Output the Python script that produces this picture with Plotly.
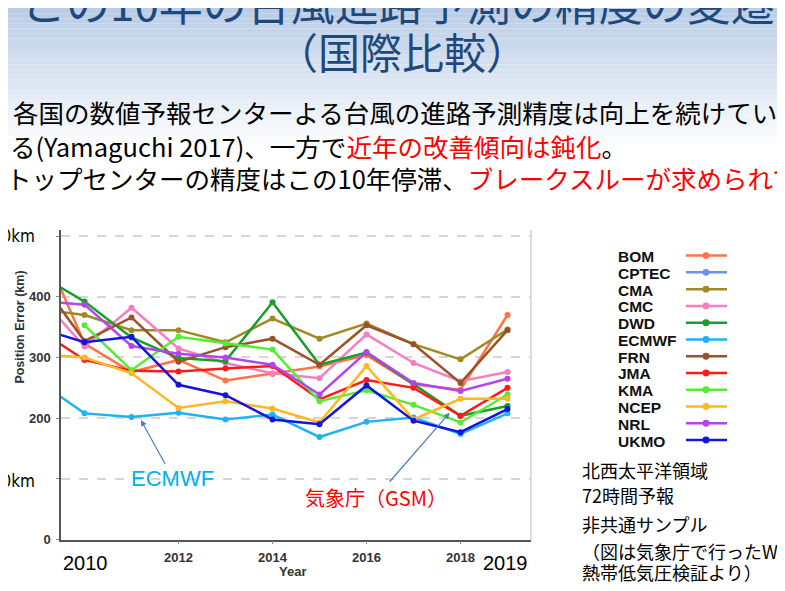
import plotly.graph_objects as go

W, H = 785, 591

# --- data (72h typhoon track position error, km) ---
years = [2009, 2010, 2011, 2012, 2013, 2014, 2015, 2016, 2017, 2018, 2019]

centres = ['BOM', 'CPTEC', 'CMA', 'CMC', 'DWD', 'ECMWF', 'FRN', 'JMA', 'KMA', 'NCEP', 'NRL', 'UKMO']
colors = ['#ff7447', '#6f8ff0', '#a08a26', '#f77ec0', '#16a02a', '#1fb2f5',
          '#9a5228', '#ff1a1a', '#55ec33', '#ffb822', '#b245f0', '#1414e0']

bom = [501, 323, 276, 296, 262, 273, 285, 304, 256, 247, 370]
cptec = [None] * 11
cma = [380, 370, 345, 345, 325, 364, 331, 356, 322, 297, 346]
cmc = [404, 318, 382, 315, 291, 274, 266, 338, 291, 261, 276]
dwd = [438, 392, 333, 299, 294, 391, 288, 308, 256, 204, 220]
ecmwf = [262, 208, 202, 209, 198, 206, 169, 194, 201, 174, 208]
frn = [433, 327, 366, 293, 317, 331, 288, 353, 322, 258, 345]
jma = [347, 296, 278, 277, 282, 286, 231, 263, 250, 204, 250]
kma = [None, 353, 279, 334, 323, 313, 228, 246, 222, 193, 239]
ncep = [306, 300, 274, 217, 228, 216, 193, 286, 198, 232, 232]
nrl = [393, 387, 319, 306, 300, 288, 239, 309, 258, 245, 265]
ukmo = [349, 325, 334, 255, 238, 198, 190, 254, 196, 177, 215]

series = [bom, cptec, cma, cmc, dwd, ecmwf, frn, jma, kma, ncep, nrl, ukmo]

ytick_vals = [0, 100, 200, 300, 400, 500]
ytick_text = ['0', '', '200', '300', '400', '']
xtick_vals = [2012, 2014, 2016, 2018]

title1 = 'この10年の台風進路予測の精度の変遷'
title2 = '（国際比較）'
body1 = '各国の数値予報センターよる台風の進路予測精度は向上を続けてい'
body2 = 'る(Yamaguchi 2017)、一方で<span style="color:#ff0000">近年の改善傾向は鈍化</span>。'
body3 = 'トップセンターの精度はこの10年停滞、<span style="color:#ff0000">ブレークスルーが求められてる</span>'
side_notes = ['北西太平洋領域', '72時間予報', '非共通サンプル', '（図は気象庁で行ったWGNE', '熱帯低気圧検証より）']

NARROW = 'Liberation Sans Narrow, Liberation Sans'


def px(x):
    return x / W


def py(y):
    return 1 - y / H


fig = go.Figure()
for name, vals, col in zip(centres, series, colors):
    fig.add_trace(go.Scatter(x=years, y=vals, name=name, mode='lines+markers',
                             line=dict(color=col, width=2.5),
                             marker=dict(color=col, size=6),
                             connectgaps=False, showlegend=False))

shapes = []
# slide background gradient at the top
nb = 28
for i in range(nb):
    t = i / (nb - 1)
    c = (int(186 + (255 - 186) * t), int(205 + (255 - 205) * t), int(230 + (255 - 230) * t))
    shapes.append(dict(type='rect', xref='paper', yref='paper', x0=0, x1=1,
                       y0=py(i * 5.2 + 5.2), y1=py(i * 5.2), line_width=0,
                       fillcolor='rgb(%d,%d,%d)' % c, layer='below'))
# right border of the chart
shapes.append(dict(type='line', xref='x domain', yref='y domain', x0=1, x1=1, y0=0, y1=1,
                   line=dict(color='#d0d0d0', width=1.5)))

annotations = []
# legend drawn like the original (text left, line sample right)
for i, (name, col) in enumerate(zip(centres, colors)):
    yy = 251 + i * 17.0
    annotations.append(dict(text=name, x=px(608), y=py(yy + 1), xref='paper', yref='paper',
                            xanchor='left', yanchor='middle', showarrow=False,
                            font=dict(family='Liberation Sans', size=15.5, color='#111111', weight='bold')))
    shapes.append(dict(type='line', xref='paper', yref='paper', x0=px(678), x1=px(719),
                       y0=py(yy), y1=py(yy), line=dict(color=col, width=2.5)))
    shapes.append(dict(type='circle', xref='paper', yref='paper', x0=px(694.5), x1=px(701.5),
                       y0=py(yy + 3.5), y1=py(yy - 3.5), fillcolor=col, line_width=0))

annotations += [
    dict(text=title1, x=px(390), y=py(-6), yanchor='middle',
         font=dict(family='Noto Sans CJK JP', size=44, color='#1f497d')),
    dict(text=title2, x=px(394), y=py(43), yanchor='middle',
         font=dict(family='Noto Sans CJK JP', size=42, color='#1f497d')),
]
for a in annotations[-2:]:
    a.update(xref='paper', yref='paper', showarrow=False, xanchor='center')

for txt, x0, y0 in [(body1, 3, 105), (body2, 0, 139), (body3, -4, 172)]:
    annotations.append(dict(text=txt, x=px(x0), y=py(y0), xref='paper', yref='paper',
                            xanchor='left', yanchor='middle', showarrow=False,
                            font=dict(family='Noto Sans CJK JP', size=25.5, color='#000000')))

for txt, y0 in zip(side_notes, [468, 494, 523, 550, 572]):
    annotations.append(dict(text=txt, x=px(572), y=py(y0), xref='paper', yref='paper',
                            xanchor='left', yanchor='middle', showarrow=False,
                            font=dict(family='Noto Sans CJK JP', size=18, color='#000000')))

# overlaid slide labels (their first digit runs off the left edge)
for txt, y0 in [('500km', 231), ('100km', 479)]:
    annotations.append(dict(text=txt, x=px(29), y=py(y0), xref='paper', yref='paper',
                            xanchor='right', yanchor='middle', showarrow=False,
                            font=dict(family='DejaVu Sans Condensed', size=17, color='#000000')))
for txt, x0 in [('2010', 77), ('2019', 497)]:
    annotations.append(dict(text=txt, x=px(x0), y=py(563), xref='paper', yref='paper',
                            xanchor='center', yanchor='middle', showarrow=False,
                            font=dict(family='Liberation Sans', size=20, color='#000000')))

annotations += [
    dict(text='Position Error (km)', x=px(12), y=py(324), xref='paper', yref='paper',
         xanchor='center', yanchor='middle', textangle=-90, showarrow=False,
         font=dict(family=NARROW, size=12.5, color='#333333', weight='bold')),
    dict(text='Year', x=px(284), y=py(571), xref='paper', yref='paper',
         xanchor='center', yanchor='middle', showarrow=False,
         font=dict(family=NARROW, size=13, color='#333333', weight='bold')),
    dict(text='ECMWF', x=2011.2, y=197, xref='x', yref='y', ax=32, ay=58,
         axref='pixel', ayref='pixel',
         showarrow=True, arrowhead=2, arrowsize=1, arrowwidth=1.2, arrowcolor='#4a7ebb',
         font=dict(family='Liberation Sans', size=22, color='#00b0f0')),
    dict(text='気象庁（GSM）', x=2017.77, y=209, xref='x', yref='y', ax=-74, ay=85,
         axref='pixel', ayref='pixel',
         showarrow=True, arrowhead=2, arrowsize=1, arrowwidth=1.2, arrowcolor='#4a7ebb',
         font=dict(family='Noto Sans CJK JP', size=20, color='#ff0000')),
]

fig.update_layout(
    width=W, height=H,
    margin=dict(l=0, r=0, t=0, b=0),
    paper_bgcolor='white', plot_bgcolor='white',
    showlegend=False,
    shapes=shapes, annotations=annotations,
    xaxis=dict(domain=[px(53), px(523)], range=[2009.5, 2019.5], showgrid=False, zeroline=False,
               showline=True, linecolor='#555555', linewidth=1.5,
               ticks='outside', ticklen=3, tickcolor='#888888',
               tickvals=xtick_vals, ticklabelstandoff=2,
               tickfont=dict(family=NARROW, size=13, color='#333333', weight='bold')),
    yaxis=dict(domain=[py(539), py(225)], range=[0, 510], zeroline=False,
               showline=True, linecolor='#555555', linewidth=1.5,
               ticks='outside', ticklen=3, tickcolor='#888888',
               tickvals=ytick_vals, ticktext=ytick_text, ticklabelstandoff=3,
               showgrid=True, gridcolor='#d6d6d6', gridwidth=1.5, griddash='dash',
               tickfont=dict(family=NARROW, size=13, color='#333333', weight='bold')),
)

fig.write_html("out.html")
